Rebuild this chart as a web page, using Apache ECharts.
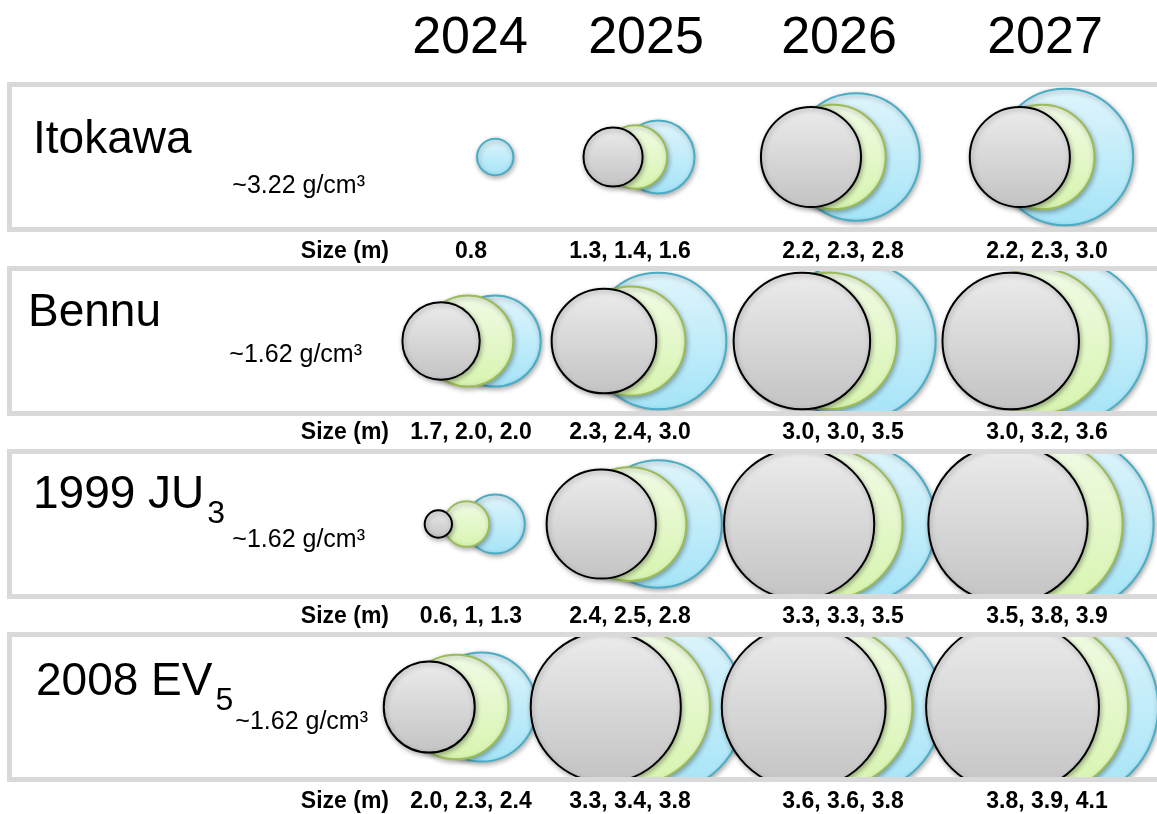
<!DOCTYPE html>
<html>
<head>
<meta charset="utf-8">
<script src="https://cdn.jsdelivr.net/npm/echarts@6/dist/echarts.min.js"></script>
<style>
  html, body { margin: 0; padding: 0; background: #fff; }
  #chart { width: 1157px; height: 814px; }
</style>
</head>
<body>
<div id="chart"></div>
<script>
// ---- data ----
const years = ['2024', '2025', '2026', '2027'];
const asteroidNames = ['Itokawa', 'Bennu', '1999 JU', '2008 EV'];
const nameSubscripts = ['', '', '3', '5'];
const densities = ['~3.22', '~1.62', '~1.62', '~1.62'];

// size in metres per year: [grey, green, blue]
const itokawaSizes = [[null, null, 0.8], [1.3, 1.4, 1.6], [2.2, 2.3, 2.8], [2.2, 2.3, 3.0]];
const bennuSizes = [[1.7, 2.0, 2.0], [2.3, 2.4, 3.0], [3.0, 3.0, 3.5], [3.0, 3.2, 3.6]];
const ju3Sizes = [[0.6, 1, 1.3], [2.4, 2.5, 2.8], [3.3, 3.3, 3.5], [3.5, 3.8, 3.9]];
const ev5Sizes = [[2.0, 2.3, 2.4], [3.3, 3.4, 3.8], [3.6, 3.6, 3.8], [3.8, 3.9, 4.1]];
const allSizes = [itokawaSizes, bennuSizes, ju3Sizes, ev5Sizes];

// size labels as printed under each cell
const itokawaLabels = ['0.8', '1.3, 1.4, 1.6', '2.2, 2.3, 2.8', '2.2, 2.3, 3.0'];
const bennuLabels = ['1.7, 2.0, 2.0', '2.3, 2.4, 3.0', '3.0, 3.0, 3.5', '3.0, 3.2, 3.6'];
const ju3Labels = ['0.6, 1, 1.3', '2.4, 2.5, 2.8', '3.3, 3.3, 3.5', '3.5, 3.8, 3.9'];
const ev5Labels = ['2.0, 2.3, 2.4', '3.3, 3.4, 3.8', '3.6, 3.6, 3.8', '3.8, 3.9, 4.1'];
const allLabels = [itokawaLabels, bennuLabels, ju3Labels, ev5Labels];

// ---- layout ----
const W = 1157, H = 814;
const PX_PER_M = 45.5;
const BOX_LEFT = 12;
const BOX_TOPS = [87, 271, 454, 637];
const BOX_H = 140;
const X_MAX = (W - BOX_LEFT) / PX_PER_M;
const Y_HALF = BOX_H / 2 / PX_PER_M;
// blue circle centre of each year column, metres from box left
const colCenterM = [10.62, 14.2, 18.55, 23.14];
// horizontal shift of grey / green relative to blue, per row (m)
const rowShiftM = [[-0.99, -0.5, 0], [-1.19, -0.6, 0], [-1.25, -0.63, 0], [-1.15, -0.56, 0]];
// small per-row nudge of the first column (m)
const firstColNudgeM = [0, 0, 0, -0.3];
const yearX = [470, 646, 839, 1045];
const labelX = [471, 630, 843, 1047];
const nameX = [33, 28, 33, 36];
const nameY = [140, 313, 495, 682];
const densityRight = [365, 362, 365, 368];
const densityY = [186, 355, 540, 722];
const sizeRowY = [252, 433, 617, 802];

const FONT = '"Liberation Sans", Arial, sans-serif';

const grad = (a, b) => new echarts.graphic.LinearGradient(0, 0, 0, 1, [
  { offset: 0, color: a }, { offset: 1, color: b },
]);

const shades = [
  { key: 'grey', idx: 0, fill: ['#ececec', '#c3c3c3'], border: '#000000', width: 2, z: 4 },
  { key: 'green', idx: 1, fill: ['#f1fbe6', '#d7f4ae'], border: '#9bbb59', width: 2, z: 3 },
  { key: 'blue', idx: 2, fill: ['#e0f5fc', '#a4e4f7'], border: '#4bacc6', width: 2, z: 2 },
];

const chart = echarts.init(document.getElementById('chart'), null, { renderer: 'canvas' });

const grids = [], xAxes = [], yAxes = [], series = [];
BOX_TOPS.forEach((top, r) => {
  grids.push({ left: BOX_LEFT, top: top, width: W - BOX_LEFT, height: BOX_H, show: false });
  xAxes.push({ gridIndex: r, type: 'value', min: 0, max: X_MAX, show: false });
  yAxes.push({ gridIndex: r, type: 'value', min: -Y_HALF, max: Y_HALF, show: false });
  shades.forEach((s) => {
    const data = [];
    allSizes[r].forEach((cell, c) => {
      const v = cell[s.idx];
      if (v == null) return;
      const nudge = c === 0 ? firstColNudgeM[r] : 0;
      data.push([colCenterM[c] + rowShiftM[r][s.idx] + nudge, 0, v]);
    });
    series.push({
      type: 'scatter',
      name: s.key,
      xAxisIndex: r,
      yAxisIndex: r,
      z: s.z,
      silent: true,
      symbol: 'circle',
      symbolSize: (v) => v[2] * PX_PER_M,
      itemStyle: {
        color: grad(s.fill[0], s.fill[1]),
        borderColor: s.border,
        borderWidth: s.width,
        opacity: 1,
        shadowBlur: 5,
        shadowOffsetX: 1,
        shadowOffsetY: 2,
        shadowColor: 'rgba(0,0,0,0.3)',
      },
      emphasis: { disabled: true },
      data: data,
    });
  });
});

// measure text width for subscripts
const ctx = document.createElement('canvas').getContext('2d');
const nameFont = '46px ' + FONT;
ctx.font = nameFont;

const graphics = [];
// white masks so circles stay inside their row box
const maskEdges = [0];
BOX_TOPS.forEach((top) => { maskEdges.push(top - 2.5, top + BOX_H + 2.5); });
maskEdges.push(H);
for (let i = 0; i < maskEdges.length; i += 2) {
  graphics.push({
    type: 'rect', z: 50, silent: true,
    shape: { x: 0, y: maskEdges[i], width: W, height: maskEdges[i + 1] - maskEdges[i] },
    style: { fill: '#fff' },
  });
}
// row boxes
BOX_TOPS.forEach((top) => {
  graphics.push({
    type: 'rect', z: 100, silent: true,
    shape: { x: BOX_LEFT - 2.5, y: top - 2.5, width: W + 20, height: BOX_H + 5 },
    style: { fill: 'none', stroke: '#d9d9d9', lineWidth: 5 },
  });
});
// year headers
years.forEach((y, i) => {
  graphics.push({
    type: 'text', z: 100, silent: true,
    style: { text: y, x: yearX[i], y: 39, font: '52px ' + FONT, fill: '#000', align: 'center', verticalAlign: 'middle' },
  });
});
asteroidNames.forEach((n, r) => {
  graphics.push({
    type: 'text', z: 100, silent: true,
    style: { text: n, x: nameX[r], y: nameY[r], font: nameFont, fill: '#000', align: 'left', verticalAlign: 'middle' },
  });
  if (nameSubscripts[r]) {
    const w = ctx.measureText(n).width;
    graphics.push({
      type: 'text', z: 100, silent: true,
      style: { text: nameSubscripts[r], x: nameX[r] + w + 3, y: nameY[r] + 19, font: '32px ' + FONT, fill: '#000', align: 'left', verticalAlign: 'middle' },
    });
  }
  graphics.push({
    type: 'text', z: 100, silent: true,
    style: { text: densities[r] + ' g/cm\u00b3', x: densityRight[r], y: densityY[r], font: '25px ' + FONT, fill: '#000', align: 'right', verticalAlign: 'middle' },
  });
  graphics.push({
    type: 'text', z: 100, silent: true,
    style: { text: 'Size (m)', x: 389, y: sizeRowY[r], font: 'bold 23px ' + FONT, fill: '#000', align: 'right', verticalAlign: 'middle' },
  });
  allLabels[r].forEach((t, c) => {
    graphics.push({
      type: 'text', z: 100, silent: true,
      style: { text: t, x: labelX[c], y: sizeRowY[r], font: 'bold 23px ' + FONT, fill: '#000', align: 'center', verticalAlign: 'middle' },
    });
  });
});

chart.setOption({
  animation: false,
  backgroundColor: '#fff',
  grid: grids,
  xAxis: xAxes,
  yAxis: yAxes,
  series: series,
  graphic: graphics,
});
</script>
</body>
</html>
